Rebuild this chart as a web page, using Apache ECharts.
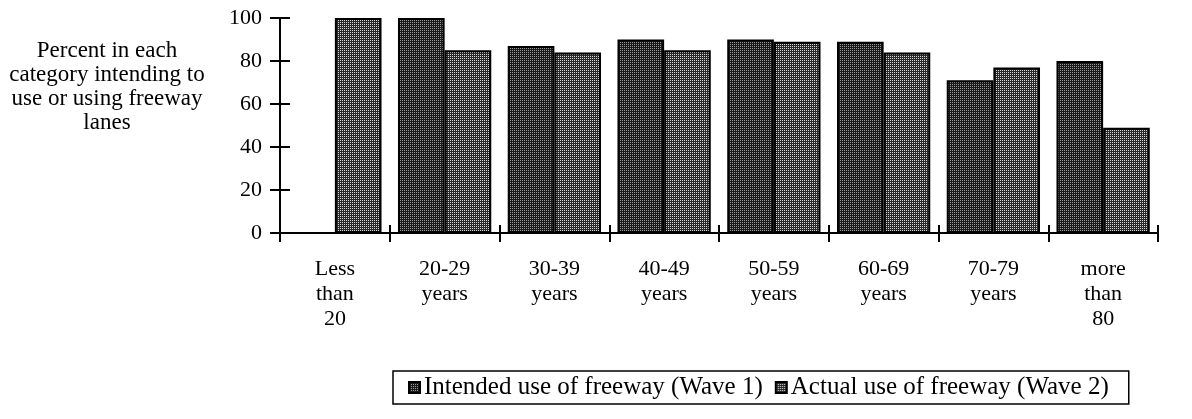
<!DOCTYPE html>
<html>
<head>
<meta charset="utf-8">
<script src="https://cdn.jsdelivr.net/npm/echarts@6/dist/echarts.min.js"></script>
<style>
  html, body { margin: 0; padding: 0; background: #fff; }
  #chart { width: 1192px; height: 419px; }
</style>
</head>
<body>
<div id="chart"></div>
<script>
// age groups, x axis
const categories = ['Less\nthan\n20', '20-29\nyears', '30-39\nyears', '40-49\nyears',
  '50-59\nyears', '60-69\nyears', '70-79\nyears', 'more\nthan\n80'];
const intended = [null, 100, 87, 90, 90, 89, 71, 80];
const actual = [100, 85, 84, 85, 89, 84, 77, 49];
const seriesNames = ['Intended use of freeway (Wave 1)', 'Actual use of freeway (Wave 2)'];
const yTitle = 'Percent in each\ncategory intending to\nuse or using freeway\nlanes';

const FONT = '"Liberation Serif", "DejaVu Serif", serif';

// halftone-like fill, drawn into a tiny canvas
function dotPattern(bg, dot) {
    let c = document.createElement('canvas');
    c.width = 4; c.height = 4;
    let ctx = c.getContext('2d');
    ctx.fillStyle = bg;
    ctx.fillRect(0, 0, 4, 4);
    ctx.fillStyle = dot;
    ctx.fillRect(0, 0, 1, 1);
    ctx.fillRect(2, 2, 1, 1);
    ctx.fillRect(2, 0, 1, 1);
    ctx.fillRect(0, 2, 1, 1);
    return c;
}

let chart = echarts.init(document.getElementById('chart'));

let option = {
    animation: false,
    textStyle: { fontFamily: FONT, color: '#000' },
    graphic: [{
        type: 'text',
        x: 107,
        y: 39,
        style: {
            text: yTitle,
            font: '23px ' + FONT,
            fill: '#000',
            textAlign: 'center',
            lineHeight: 24
        }
    }],
    legend: {
        left: 393,
        top: 371,
        padding: [4, 20, 4, 15],
        borderColor: '#000',
        borderWidth: 1.5,
        itemWidth: 11,
        itemHeight: 11,
        itemGap: 12,
        icon: 'rect',
        textStyle: { fontFamily: FONT, fontSize: 25, color: '#000', padding: [0, 0, 0, -1] },
        data: seriesNames
    },
    grid: { left: 280, right: 34, top: 18, bottom: 186 },
    xAxis: [{
        type: 'category',
        data: categories,
        axisLine: { lineStyle: { color: '#000', width: 2 } },
        axisTick: { show: true, length: 9, lineStyle: { color: '#000', width: 2 } },
        axisLabel: { fontFamily: FONT, fontSize: 22, color: '#000', lineHeight: 25, margin: 24 }
    }, {
        // second copy only for ticks crossing upward
        type: 'category',
        data: categories,
        position: 'bottom',
        axisLine: { show: false },
        axisTick: { show: true, inside: true, length: 8, lineStyle: { color: '#000', width: 2 } },
        axisLabel: { show: false }
    }],
    yAxis: [{
        type: 'value',
        min: 0,
        max: 100,
        interval: 20,
        splitLine: { show: false },
        axisLine: { show: true, lineStyle: { color: '#000', width: 2 } },
        axisTick: { show: true, length: 10, lineStyle: { color: '#000', width: 2 } },
        axisLabel: { fontFamily: FONT, fontSize: 22, color: '#000', margin: 18 }
    }, {
        type: 'value',
        min: 0,
        max: 100,
        interval: 20,
        position: 'left',
        splitLine: { show: false },
        axisLine: { show: false },
        axisTick: { show: true, inside: true, length: 10, lineStyle: { color: '#000', width: 2 } },
        axisLabel: { show: false }
    }],
    series: [{
        name: seriesNames[0],
        type: 'bar',
        data: intended,
        barGap: '0%',
        barCategoryGap: '15%',
        itemStyle: {
            color: { image: dotPattern('#1a1a1a', '#9a9a9a'), repeat: 'repeat' },
            borderColor: '#000',
            borderWidth: 2
        }
    }, {
        name: seriesNames[1],
        type: 'bar',
        data: actual,
        itemStyle: {
            color: { image: dotPattern('#2a2a2a', '#d8d8d8'), repeat: 'repeat' },
            borderColor: '#000',
            borderWidth: 2
        }
    }]
};
chart.setOption(option);
</script>
</body>
</html>
